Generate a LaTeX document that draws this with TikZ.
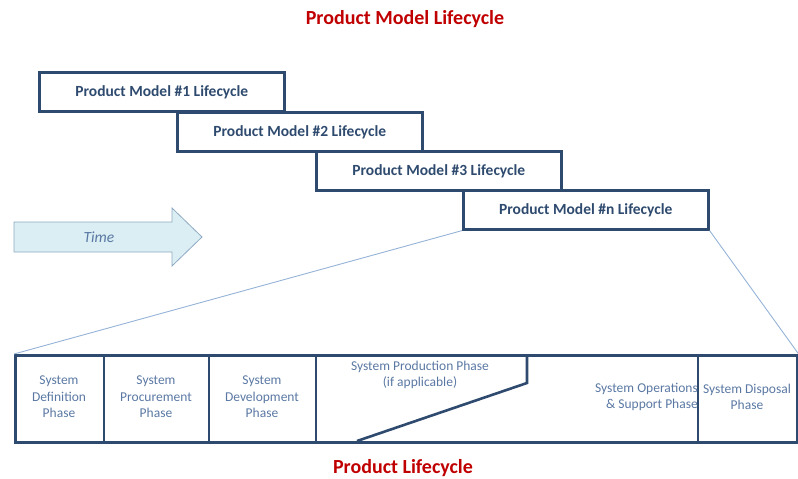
\documentclass[tikz,border=0pt]{standalone}
\usepackage{fontspec}
\setmainfont{Carlito}
\usetikzlibrary{positioning}
\definecolor{navy}{HTML}{2E4A6E}
\definecolor{phasetext}{HTML}{5A78A3}
\definecolor{titlered}{HTML}{C00000}
\definecolor{arrowfill}{HTML}{DAEEF3}
\definecolor{arrowline}{HTML}{8FAAC2}
\definecolor{zoomline}{HTML}{95B3D7}
\tikzset{
  modelbox/.style={draw=navy, line width=2.6pt, minimum width=245pt, minimum height=39pt,
    anchor=north west, inner sep=0pt, text=navy, font=\fontsize{15.5}{18}\selectfont\bfseries},
  phase/.style={text=phasetext, align=center, font=\fontsize{13.5}{16.5}\selectfont, inner sep=0pt},
  heading/.style={text=titlered, font=\fontsize{20}{24}\selectfont\bfseries},
}
\begin{document}
\begin{tikzpicture}[x=1pt, y=-1pt]
  \useasboundingbox (0,0) rectangle (798,479);

  % headings
  \node[heading] (pmlc) at (405,19) {Product Model Lifecycle};
  \node[heading] (plct) at (403,468) {Product Lifecycle};

  % product model lifecycles
  \node[modelbox] (m1) at (38,71) {Product Model \#1 Lifecycle};
  \node[modelbox] (m2) at (176,111) {Product Model \#2 Lifecycle};
  \node[modelbox] (m3) at (315,150) {Product Model \#3 Lifecycle};
  \node[modelbox] (mn) at (462,189) {Product Model \#n Lifecycle};

  % time arrow
  \draw[arrowline, fill=arrowfill, line width=0.8pt]
    (14,222) -- (172,222) -- (172,208) -- (202,237) -- (172,266) -- (172,252) -- (14,252) -- cycle;
  \node[text=phasetext, font=\fontsize{15.5}{18}\selectfont\itshape] (time) at (99,237) {Time};

  % product lifecycle
  \node[draw=navy, line width=2.6pt, minimum width=782pt, minimum height=87pt,
    anchor=north west, inner sep=0pt] (plc) at (14,354) {};
  \draw[zoomline, line width=0.9pt] (mn.south west) -- (plc.north west);
  \draw[zoomline, line width=0.9pt] (mn.south east) -- (plc.north east);

  \foreach \x in {104,209,316,698}
    \draw[navy, line width=2.6pt] (\x,354) -- (\x,441);
  \draw[navy, line width=2.6pt] (527,354) -- (527,383) -- (357,441);

  \node[phase] (def) at (59,397) {System\\Definition\\Phase};
  \node[phase] (proc) at (156,397) {System\\Procurement\\Phase};
  \node[phase] (dev) at (262,397) {System\\Development\\Phase};
  \node[phase] (prod) at (420,375) {System Production Phase\\(if applicable)};
  \node[phase, align=right, anchor=east] (ops) at (698,397) {System Operations\\\& Support Phase};
  \node[phase] (disp) at (747,397) {System Disposal\\Phase};
\end{tikzpicture}
\end{document}
